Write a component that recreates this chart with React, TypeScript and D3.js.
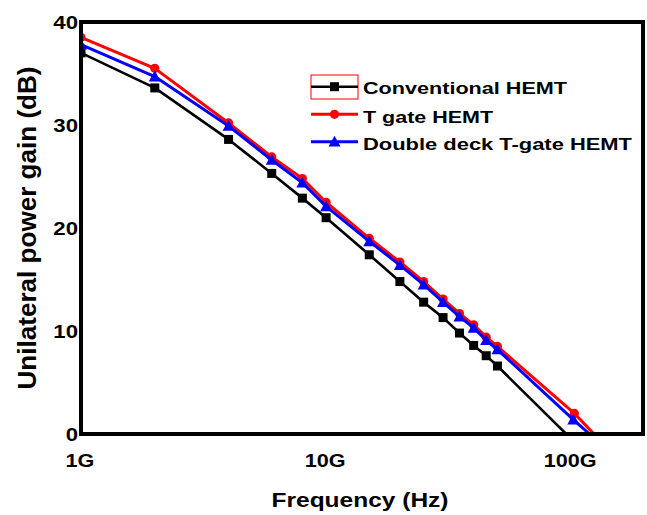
import React from "react";
import * as d3 from "d3";

// Frequencies in GHz
const freqs = [1, 2, 4, 6, 8, 10, 15, 20, 25, 30, 35, 40, 45, 50];
const conventional = [37.0, 33.6, 28.6, 25.3, 22.9, 21.0, 17.4, 14.8, 12.8, 11.3, 9.8, 8.6, 7.6, 6.6];
const tGate = [38.5, 35.5, 30.2, 26.9, 24.8, 22.5, 19.0, 16.7, 14.8, 13.1, 11.7, 10.6, 9.4, 8.5];
const doubleDeck = [37.8, 34.7, 29.9, 26.6, 24.4, 22.1, 18.7, 16.4, 14.5, 12.8, 11.4, 10.3, 9.1, 8.2];
// extra high-frequency markers
const tGateTail = { f: 103, v: 2.0 };
const doubleDeckTail = { f: 102, v: 1.4 };
// frequency (GHz) where each curve reaches 0 dB (line end, no marker)
const zeroCross = { conventional: 95.4, tGate: 123.8, doubleDeck: 118.8 };

const yTicks = [0, 10, 20, 30, 40];
const xTicks = [1, 10, 100];
const xTickLabels = ["1G", "10G", "100G"];
const seriesNames = ["Conventional HEMT", "T gate HEMT", "Double deck T-gate HEMT"];

const W = 647, H = 515;
const L = 81, R = 643, TOP = 22, B = 434;

const x = d3.scaleLog().domain([1, 200]).range([L, R + 2]);
const y = d3.scaleLinear().domain([0, 40]).range([B, TOP]);

type P = { f: number; v: number; m: boolean };

function build(vals: number[], tail: { f: number; v: number } | null, zero: number): P[] {
  const pts: P[] = freqs.map((f, i) => ({ f, v: vals[i], m: true }));
  if (tail) pts.push({ ...tail, m: true });
  pts.push({ f: zero, v: 0, m: false });
  return pts;
}

const series = [
  { name: seriesNames[0], color: "#000000", shape: "square", pts: build(conventional, null, zeroCross.conventional), w: 2.6 },
  { name: seriesNames[1], color: "#ff0000", shape: "circle", pts: build(tGate, tGateTail, zeroCross.tGate), w: 3 },
  { name: seriesNames[2], color: "#0000ff", shape: "triangle", pts: build(doubleDeck, doubleDeckTail, zeroCross.doubleDeck), w: 3 },
];

const line = d3.line<P>().x((d) => x(d.f)).y((d) => y(d.v));

function Marker({ shape, cx, cy, color }: { shape: string; cx: number; cy: number; color: string }) {
  if (shape === "square") return <rect x={cx - 4.5} y={cy - 4.5} width={9} height={9} fill={color} />;
  if (shape === "circle") return <circle cx={cx} cy={cy} r={4.6} fill={color} />;
  const s = 6;
  return <path d={`M${cx},${cy - s}L${cx + s},${cy + s * 0.8}L${cx - s},${cy + s * 0.8}Z`} fill={color} />;
}

const font = "'Liberation Sans', Arial, sans-serif";

export default function App() {
  return (
    <svg width={W} height={H} style={{ position: "absolute", left: 0, top: 0, background: "#fff" }}>
      <defs>
        <clipPath id="plot">
          <rect x={L} y={TOP} width={R - L} height={B - TOP} />
        </clipPath>
      </defs>
      <rect x={0} y={0} width={W} height={H} fill="#fff" />
      <g clipPath="url(#plot)">
        {series.map((s) => (
          <g key={s.name}>
            <path d={line(s.pts) || ""} fill="none" stroke={s.color} strokeWidth={s.w} strokeLinejoin="round" />
            {s.pts.filter((p) => p.m).map((p, i) => (
              <Marker key={i} shape={s.shape} cx={x(p.f)} cy={y(p.v)} color={s.color} />
            ))}
          </g>
        ))}
      </g>
      <rect x={L} y={TOP} width={R - L} height={B - TOP} fill="none" stroke="#000" strokeWidth={4} />
      {yTicks.map((t) => (
        <text key={t} transform={`translate(78,${y(t) + 6.5}) scale(1.2,1)`} textAnchor="end"
          fontFamily={font} fontWeight="bold" fontSize={18.5} fill="#000">{t}</text>
      ))}
      {xTicks.map((t, i) => (
        <text key={t} transform={`translate(${x(t) - 1},466.5) scale(1.17,1)`} textAnchor="middle"
          fontFamily={font} fontWeight="bold" fontSize={18.5} fill="#000">{xTickLabels[i]}</text>
      ))}
      <text x={360} y={506.5} textAnchor="middle" fontFamily={font} fontWeight="bold" fontSize={21}
        textLength={177} lengthAdjust="spacingAndGlyphs" fill="#000">Frequency (Hz)</text>
      <text transform="translate(36,228) rotate(-90)" textAnchor="middle" fontFamily={font} fontWeight="bold"
        fontSize={25} textLength={323} lengthAdjust="spacingAndGlyphs" fill="#000">Unilateral power gain (dB)</text>
      {/* legend */}
      <rect x={311} y={75} width={47} height={24} fill="none" stroke="#ff0000" strokeWidth={1} />
      {series.map((s, i) => {
        const ly = [86.7, 114.3, 141.7][i];
        const ty = [94.3, 122.7, 150][i];
        const tl = [204, 130, 269][i];
        return (
          <g key={s.name}>
            <line x1={311} x2={358} y1={ly} y2={ly} stroke={s.color} strokeWidth={s.w} />
            <Marker shape={s.shape} cx={334.5} cy={ly} color={s.color} />
            <text x={363} y={ty} fontFamily={font} fontWeight="bold" fontSize={17} textLength={tl}
              lengthAdjust="spacingAndGlyphs" fill="#000">{s.name}</text>
          </g>
        );
      })}
    </svg>
  );
}
